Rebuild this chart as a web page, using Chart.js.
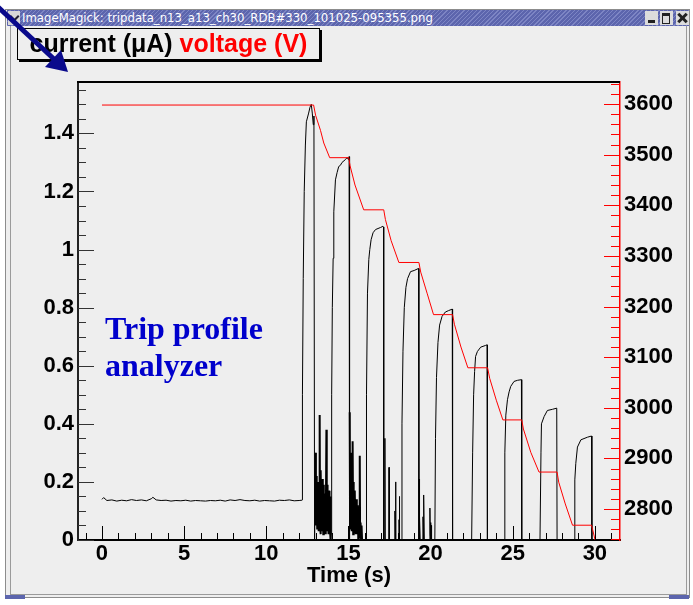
<!DOCTYPE html>
<html>
<head>
<meta charset="utf-8">
<script src="https://cdn.jsdelivr.net/npm/chart.js@4.4.1/dist/chart.umd.min.js"></script>
<style>
  html, body { margin: 0; padding: 0; background: #fff; }
  #screen { position: relative; width: 693px; height: 605px; overflow: hidden; background: #fff; }
  #frame { position: absolute; left: 5px; top: 9px; width: 683px; height: 587px; border: 1px solid #8c8c8c; background: #eeeeee; }
  #inner { position: absolute; left: 10px; top: 26px; width: 675px; height: 568px; border-left: 1px solid #9a9a9a; border-right: 1px solid #9a9a9a; border-bottom: 1px solid #9a9a9a; }
  .corner { position: absolute; top: 595px; width: 20px; height: 4px; background: #5c65ad; }
  #bar { position: absolute; left: 7px; top: 10px; width: 682px; height: 16px;
         background: repeating-linear-gradient(135deg, #5c65ad 0 2px, #7d85c4 2px 3px); }
  #bar .name { position: absolute; left: 15px; top: 0; line-height: 16px; color: #fff;
               font: 13px "DejaVu Sans Condensed", "DejaVu Sans", sans-serif; white-space: nowrap; }
  #bar .drop { position: absolute; left: 1px; top: 1px; width: 12px; height: 14px; background: #d8d8d8; }
  #bar .drop::after { content: ""; position: absolute; left: 3px; top: 2px; width: 5px; height: 5px;
                      border-right: 2px solid #223; border-bottom: 2px solid #223; transform: rotate(45deg); }
  #bar .btn { position: absolute; top: 1px; width: 13px; height: 14px; background: #dcdcdc; }
  #bar .min::after { content: ""; position: absolute; left: 3px; top: 9px; width: 7px; height: 3px; background: #222; }
  #bar .max::after { content: ""; position: absolute; left: 2px; top: 2px; width: 6px; height: 7px; border: 1px solid #222; border-top-width: 3px; }
  #bar .cls::before, #bar .cls::after { content: ""; position: absolute; left: 5px; top: 1px; width: 3px; height: 12px; background: #222; }
  #bar .cls::before { transform: rotate(45deg); }
  #bar .cls::after { transform: rotate(-45deg); }
  #chart { position: absolute; left: 0; top: 0; }
  #legend { position: absolute; left: 17px; top: 28px; width: 301px; height: 30px; border: 1px solid #000;
            box-shadow: 2px 2px 0 #000; background: #eeeeee; text-align: center; line-height: 30px;
            font: bold 25px "Liberation Sans", Arial, Helvetica, sans-serif; color: #000; white-space: nowrap; }
  #legend .v { color: #ff0000; }
  #note { position: absolute; left: 105px; top: 310px; color: #0000cc; line-height: 35px;
          font: bold 32px "Liberation Serif", "Times New Roman", serif; }
  #arrow { position: absolute; left: 0; top: 0; }
</style>
</head>
<body>
<div id="screen">
  <div id="frame"></div>
  <div id="inner"></div>
  <div class="corner" style="left:5px"></div>
  <div class="corner" style="left:669px"></div>
  <div id="bar">
    <div class="drop"></div>
    <div class="name">ImageMagick: tripdata_n13_a13_ch30_RDB#330_101025-095355.png</div>
    <div class="btn min" style="left:638px"></div>
    <div class="btn max" style="left:653px"></div>
    <div class="btn cls" style="left:669px"></div>
  </div>
  <canvas id="chart" width="693" height="605"></canvas>
  <div id="legend">current (μA) <span class="v">voltage (V)</span></div>
  <div id="note">Trip profile<br>analyzer</div>
  <svg id="arrow" width="693" height="605">
    <line x1="-2" y1="7" x2="55" y2="60" stroke="#0a0a8c" stroke-width="5"/>
    <polygon points="68,72 45,67 61,50" fill="#0a0a8c"/>
  </svg>
</div>
<script>
// time (s) and current (uA)
const baseline = [[0, 0.140], [0.1, 0.146], [0.3, 0.136], [0.6, 0.138], [0.9, 0.134], [1.2, 0.137], [1.5, 0.135],
  [1.8, 0.139], [2.1, 0.136], [2.4, 0.138], [2.7, 0.135], [3.0, 0.142], [3.1, 0.147], [3.3, 0.138], [3.6, 0.136],
  [3.9, 0.137], [4.2, 0.134], [4.5, 0.136], [4.8, 0.135], [5.1, 0.137], [5.4, 0.134], [5.7, 0.136], [6.0, 0.135],
  [6.3, 0.134], [6.6, 0.136], [6.9, 0.135], [7.2, 0.137], [7.5, 0.134], [7.8, 0.138], [8.1, 0.136], [8.4, 0.139],
  [8.7, 0.136], [9.0, 0.135], [9.3, 0.137], [9.6, 0.134], [9.9, 0.136], [10.2, 0.135], [10.5, 0.134], [10.8, 0.137],
  [11.1, 0.136], [11.4, 0.138], [11.7, 0.135], [12.0, 0.136], [12.17, 0.137]];
const trip1 = [[12.18, 0.138], [12.2, 0.5], [12.25, 0.9], [12.31, 1.2], [12.38, 1.36], [12.44, 1.44], [12.58, 1.47],
  [12.66, 1.49], [12.74, 1.5], [12.8, 1.47], [12.86, 1.43], [12.9, 1.46], [12.94, 0.0]];
const burst1 = [[13.0, 0.3], [13.02, 0.05], [13.04, 0.22], [13.06, 0.06], [13.08, 0.15], [13.1, 0.04], [13.12, 0.2],
  [13.14, 0.05], [13.16, 0.12], [13.18, 0.03], [13.2, 0.18], [13.22, 0.06], [13.25, 0.43], [13.27, 0.05], [13.29, 0.15],
  [13.31, 0.02], [13.33, 0.24], [13.35, 0.06], [13.37, 0.14], [13.39, 0.03], [13.41, 0.21], [13.43, 0.05], [13.45, 0.13],
  [13.47, 0.02], [13.49, 0.19], [13.51, 0.06], [13.53, 0.12], [13.55, 0.03], [13.57, 0.16], [13.59, 0.05], [13.61, 0.11],
  [13.63, 0.02], [13.66, 0.38], [13.68, 0.05], [13.7, 0.19], [13.72, 0.03], [13.74, 0.14], [13.76, 0.06], [13.78, 0.16],
  [13.8, 0.02], [13.82, 0.17], [13.84, 0.05], [13.86, 0.12], [13.88, 0.03], [13.9, 0.15], [13.93, 0.0]];
const trip2 = [[13.95, 0.02], [13.98, 0.5], [14.02, 0.8], [14.07, 0.97], [14.11, 1.13], [14.21, 1.24], [14.31, 1.265],
  [14.41, 1.286], [14.51, 1.29], [14.61, 1.3], [14.82, 1.31], [14.92, 1.317], [15.0, 1.31], [15.04, 1.32], [15.06, 0.0]];
const burst2 = [[15.08, 0.44], [15.1, 0.04], [15.13, 0.3], [15.15, 0.05], [15.18, 0.18], [15.2, 0.03], [15.22, 0.15],
  [15.24, 0.04], [15.27, 0.34], [15.29, 0.02], [15.31, 0.2], [15.33, 0.05], [15.35, 0.12], [15.37, 0.03], [15.4, 0.17],
  [15.42, 0.04], [15.44, 0.11], [15.46, 0.02], [15.49, 0.14], [15.51, 0.04], [15.53, 0.09], [15.55, 0.02], [15.58, 0.12],
  [15.6, 0.0], [15.63, 0.07], [15.66, 0.01], [15.69, 0.29], [15.71, 0.02], [15.74, 0.06], [15.77, 0.0], [15.8, 0.05],
  [15.83, 0.0]];
const trip3 = [[16.07, 0.0], [16.1, 0.5], [16.16, 0.85], [16.24, 0.966], [16.3, 1.0], [16.38, 1.034], [16.5, 1.058],
  [16.65, 1.069], [16.95, 1.076], [17.1, 1.08], [17.14, 1.078], [17.15, 0.0]];
const burst3 = [[17.2, 0.0], [17.22, 0.35], [17.24, 0.0], [17.46, 0.0], [17.47, 0.25], [17.49, 0.0], [17.82, 0.0],
  [17.83, 0.1], [17.85, 0.0], [17.87, 0.2], [17.89, 0.0], [18.07, 0.0], [18.08, 0.07], [18.1, 0.15], [18.12, 0.0]];
const trip4 = [[18.22, 0.0], [18.26, 0.4], [18.32, 0.65], [18.4, 0.8], [18.5, 0.87], [18.6, 0.9], [18.78, 0.924],
  [19.0, 0.928], [19.27, 0.935], [19.29, 0.0]];
const burst4 = [[19.3, 0.21], [19.31, 0.02], [19.32, 0.1], [19.33, 0.0], [19.35, 0.08], [19.37, 0.0], [19.53, 0.0],
  [19.54, 0.08], [19.56, 0.0], [19.6, 0.155], [19.62, 0.0], [19.95, 0.0], [19.96, 0.11], [19.98, 0.02], [20.0, 0.06],
  [20.02, 0.0], [20.04, 0.05], [20.06, 0.0]];
const trip5 = [[20.26, 0.0], [20.3, 0.35], [20.36, 0.56], [20.45, 0.68], [20.55, 0.74], [20.7, 0.77], [20.9, 0.785],
  [21.1, 0.79], [21.32, 0.795], [21.34, 0.0]];
const trip6 = [[22.5, 0.0], [22.56, 0.3], [22.62, 0.5], [22.68, 0.58], [22.74, 0.632], [22.85, 0.649], [23.05, 0.664],
  [23.35, 0.67], [23.44, 0.672], [23.46, 0.0]];
const trip7 = [[24.48, 0.0], [24.52, 0.3], [24.58, 0.43], [24.68, 0.483], [24.78, 0.51], [24.88, 0.529], [25.08, 0.546],
  [25.3, 0.55], [25.53, 0.552], [25.55, 0.0]];
const trip8 = [[26.66, 0.0], [26.72, 0.3], [26.75, 0.4], [26.91, 0.425], [27.11, 0.446], [27.42, 0.45], [27.68, 0.454],
  [27.7, 0.0]];
const trip9 = [[28.74, 0.0], [28.78, 0.207], [28.84, 0.264], [28.94, 0.32], [29.15, 0.345], [29.55, 0.354],
  [29.8, 0.358], [29.82, 0.0], [31.5, 0.0]];

// time (s) and voltage (V)
const voltage = [[0, 3598], [12.88, 3598], [13.0, 3578], [13.3, 3548], [13.5, 3523], [13.86, 3494], [15.02, 3494],
  [15.1, 3478], [15.4, 3440], [15.93, 3391], [17.15, 3391], [17.25, 3372], [17.6, 3330], [18.07, 3287], [19.29, 3287],
  [19.4, 3268], [19.8, 3225], [20.18, 3184], [21.34, 3184], [21.45, 3165], [21.85, 3120], [22.27, 3079], [23.47, 3079],
  [23.6, 3058], [24.0, 3015], [24.4, 2976], [25.55, 2976], [25.65, 2958], [26.1, 2912], [26.6, 2873], [27.7, 2873],
  [27.8, 2853], [28.2, 2810], [28.64, 2768], [29.8, 2768], [30.08, 2730]];

const timeTicks = [0, 5, 10, 15, 20, 25, 30];
const currentTicks = [0, 0.2, 0.4, 0.6, 0.8, 1, 1.2, 1.4];
const voltageTicks = [2800, 2900, 3000, 3100, 3200, 3300, 3400, 3500, 3600];

const current = [...baseline, ...trip1, ...burst1, ...trip2, ...burst2, ...trip3, ...burst3, ...trip4, ...burst4,
  ...trip5, ...trip6, ...trip7, ...trip8, ...trip9];
const toXY = pts => pts.map(([x, y]) => ({ x, y }));

// the noisy stretches right after a trip look solid black in the original
const noisy = [[12.95, 13.94], [15.07, 15.85]];
const inNoise = t => noisy.some(([a, b]) => t >= a && t <= b);

const font = { family: '"Liberation Sans", Arial, Helvetica, sans-serif', size: 22, weight: 'bold' };
const useTicks = list => scale => { scale.ticks = list.map(v => ({ value: v })); };

// inward ROOT-style tick marks and the top edge of the frame
const frameTicks = {
  id: 'frameTicks',
  afterDatasetsDraw(chart) {
    const { ctx, chartArea: a, scales: { x, y, y2 } } = chart;
    const seg = (x1, y1, x2, y3) => { ctx.beginPath(); ctx.moveTo(x1, y1); ctx.lineTo(x2, y3); ctx.stroke(); };
    ctx.save();
    ctx.lineWidth = 1;
    ctx.strokeStyle = '#000';
    for (let t = -1; t <= 31; t++) {
      const p = Math.round(x.getPixelForValue(t)) + 0.5;
      seg(p, a.bottom, p, a.bottom - (t % 5 === 0 ? 14 : 7));
    }
    ctx.strokeStyle = '#333';
    for (let k = 0; k <= 31; k++) {
      const p = Math.round(y.getPixelForValue(k * 0.05)) + 0.5;
      seg(a.left, p, a.left + (k % 4 === 0 ? 16 : 8), p);
    }
    ctx.strokeStyle = '#ff0000';
    for (let v = 2740; v <= 3640; v += 20) {
      const p = Math.round(y2.getPixelForValue(v)) + 0.5;
      seg(a.right, p, a.right - (v % 100 === 0 ? 16 : 9), p);
    }
    ctx.strokeStyle = '#000';
    ctx.lineWidth = 2;
    seg(a.left - 1, a.top, a.right, a.top);
    ctx.restore();
  }
};

new Chart(document.getElementById('chart'), {
  type: 'line',
  data: {
    datasets: [
      { label: 'current (μA)', data: toXY(current), yAxisID: 'y', borderColor: '#000', borderWidth: 1,
        pointRadius: 0, tension: 0, order: 2,
        segment: { borderWidth: c => (inNoise(c.p0.parsed.x) && inNoise(c.p1.parsed.x) ? 2 : 1) } },
      { label: 'voltage (V)', data: toXY(voltage), yAxisID: 'y2', borderColor: '#ff0000', borderWidth: 1,
        pointRadius: 0, tension: 0, order: 1 }
    ]
  },
  options: {
    responsive: false,
    animation: false,
    events: [],
    layout: { padding: { left: 0, top: 82, right: 3, bottom: 15 } },
    plugins: { legend: { display: false }, tooltip: { enabled: false } },
    scales: {
      x: {
        type: 'linear', min: -1.46, max: 31.53,
        afterBuildTicks: useTicks(timeTicks),
        afterFit: s => { s.height = 50; },
        grid: { display: false, drawTicks: false },
        border: { color: '#000', width: 2 },
        ticks: { font, color: '#000', padding: 1, maxRotation: 0, autoSkip: false },
        title: { display: true, text: 'Time (s)', font, color: '#000', padding: { top: 0, bottom: 1 } }
      },
      y: {
        position: 'left', min: 0, max: 1.577,
        afterBuildTicks: useTicks(currentTicks),
        afterFit: s => { s.width = 78; },
        grid: { display: false, drawTicks: false },
        border: { color: '#222', width: 2 },
        ticks: { font, color: '#000', padding: 4, callback: v => String(v) }
      },
      y2: {
        position: 'right', min: 2738.8, max: 3643.5,
        afterBuildTicks: useTicks(voltageTicks),
        afterFit: s => { s.width = 70; },
        grid: { display: false, drawTicks: false },
        border: { color: '#ff0000', width: 1.5 },
        ticks: { font, color: '#000', padding: 4, callback: v => String(v) }
      }
    }
  },
  plugins: [frameTicks]
});
</script>
</body>
</html>
